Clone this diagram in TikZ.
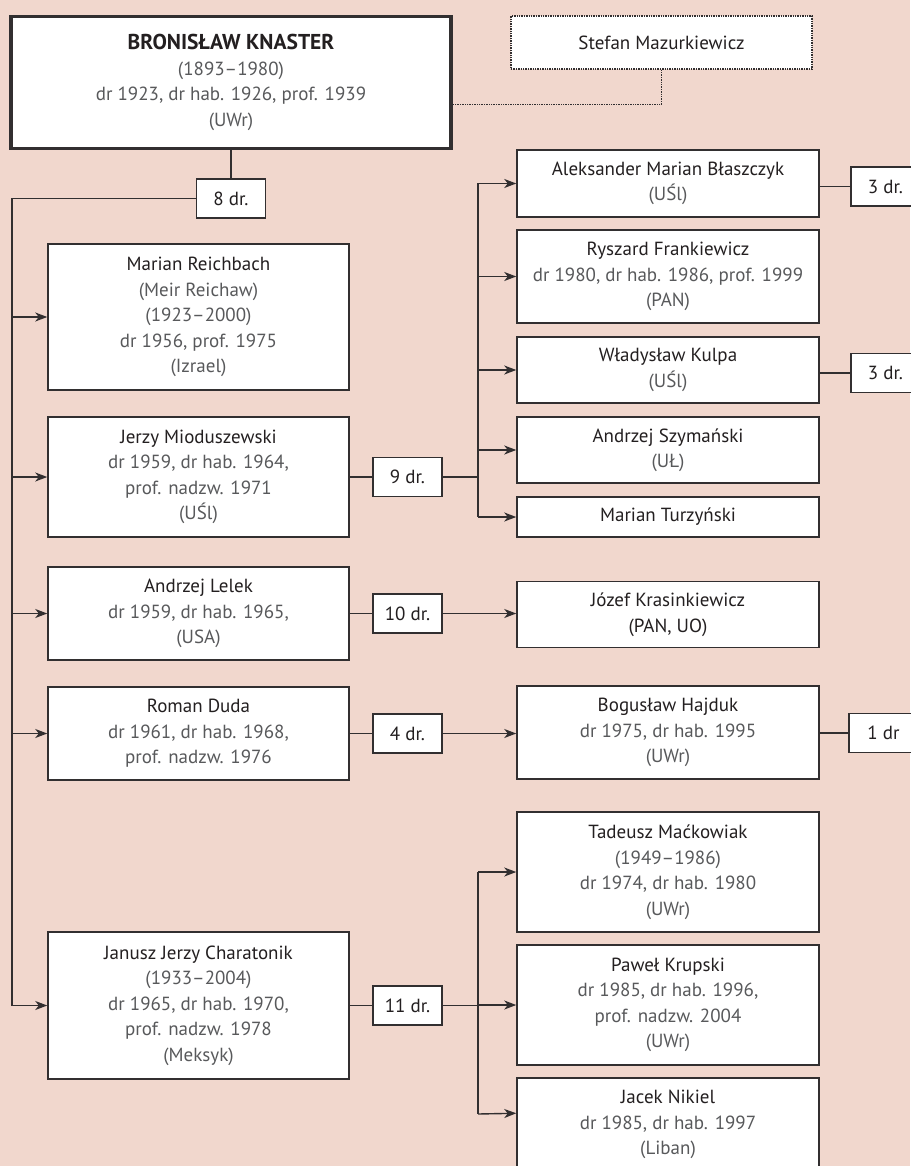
\documentclass[tikz,border=0pt]{standalone}
\usepackage{fontspec}
\setmainfont{PT Sans}
\usetikzlibrary{arrows.meta}
\definecolor{bgpink}{RGB}{241,215,205}
\definecolor{namecol}{RGB}{35,31,32}
\definecolor{infocol}{RGB}{88,89,91}
\definecolor{linecol}{RGB}{50,47,48}
\newcommand{\pname}[1]{\textcolor{namecol}{#1}\\}
\tikzset{
	person/.style={draw=linecol, line width=1.5pt, fill=white, align=center, text=infocol, inner sep=0pt, font=\fontsize{19}{25.5}\selectfont},
	leftbox/.style={person, minimum width=301pt},
	rightbox/.style={person, minimum width=302pt},
	countbox/.style={person, text=namecol, minimum width=69pt, minimum height=39pt},
	conn/.style={draw=linecol, line width=1.4pt},
	arr/.style={conn, -{Stealth[length=12pt, width=9pt, inset=3.5pt]}},
	dotline/.style={conn, densely dotted}
}

\begin{document}
\begin{tikzpicture}[x=1pt, y=-1pt]
			%%%%% START %%%%%
			
			\fill[bgpink] (0, 0) rectangle (910, 1166);
			\useasboundingbox (0, 0) rectangle (910, 1166);
			
			\node[person, line width=3.5pt, minimum width=440pt, minimum height=132pt] (knaster) at (231, 82.5)
				{\pname{\fontsize{21.5}{25.5}\selectfont\textbf{BRONISŁAW KNASTER}}(1893--1980)\\dr 1923, dr hab. 1926, prof. 1939\\(UWr)};
			\node[person, dotline, minimum width=301pt, minimum height=53pt] (mazurkiewicz) at (661.5, 42.5)
				{\textcolor{namecol}{Stefan Mazurkiewicz}};
			\draw[dotline] (mazurkiewicz.south) |- ([yshift=-22pt]knaster.east);
			
			\node[countbox] (cnt8) at (231, 198.5) {8 dr.};
			\draw[conn] (knaster) -- (cnt8);
			\coordinate (trunk) at (12, 1005.5);
			\draw[conn] (cnt8.west) -| (trunk);
			
			\node[leftbox, minimum height=146pt] (reichbach) at (198.5, 317)
				{\pname{Marian Reichbach}(Meir Reichaw)\\(1923--2000)\\dr 1956, prof. 1975\\(Izrael)};
			\node[leftbox, minimum height=120pt] (mioduszewski) at (198.5, 477)
				{\pname{Jerzy Mioduszewski}dr 1959, dr hab. 1964,\\prof. nadzw. 1971\\(UŚl)};
			\node[leftbox, minimum height=93pt] (lelek) at (198.5, 613.5)
				{\pname{Andrzej Lelek}dr 1959, dr hab. 1965,\\(USA)};
			\node[leftbox, minimum height=93pt] (duda) at (198.5, 733.5)
				{\pname{Roman Duda}dr 1961, dr hab. 1968,\\prof. nadzw. 1976};
			\node[leftbox, minimum height=147pt] (charatonik) at (198.5, 1005.5)
				{\pname{Janusz Jerzy Charatonik}(1933--2004)\\dr 1965, dr hab. 1970,\\prof. nadzw. 1978\\(Meksyk)};
			
			\draw[arr] (trunk |- reichbach.west) -- (reichbach.west);
			\draw[arr] (trunk |- mioduszewski.west) -- (mioduszewski.west);
			\draw[arr] (trunk |- lelek.west) -- (lelek.west);
			\draw[arr] (trunk |- duda.west) -- (duda.west);
			\draw[arr] (trunk) -- (charatonik.west);
			
			\node[countbox] (cnt9) at (407.5, 477) {9 dr.};
			\node[countbox] (cnt10) at (407.5, 613.5) {10 dr.};
			\node[countbox] (cnt4) at (407.5, 733.5) {4 dr.};
			\node[countbox] (cnt11) at (407.5, 1005.5) {11 dr.};
			\draw[conn] (mioduszewski) -- (cnt9);
			\draw[conn] (lelek) -- (cnt10);
			\draw[conn] (duda) -- (cnt4);
			\draw[conn] (charatonik) -- (cnt11);
			
			\node[rightbox, minimum height=67pt] (blaszczyk) at (668, 183.5)
				{\pname{Aleksander Marian Błaszczyk}(UŚl)};
			\node[rightbox, minimum height=93pt] (frankiewicz) at (668, 276.5)
				{\pname{Ryszard Frankiewicz}dr 1980, dr hab. 1986, prof. 1999\\(PAN)};
			\node[rightbox, minimum height=66pt] (kulpa) at (668, 370)
				{\pname{Władysław Kulpa}(UŚl)};
			\node[rightbox, minimum height=66pt] (szymanski) at (668, 450)
				{\pname{Andrzej Szymański}(UŁ)};
			\node[rightbox, minimum height=40pt] (turzynski) at (668, 517)
				{\textcolor{namecol}{Marian Turzyński}};
			
			\coordinate (br9) at (478, 477);
			\draw[conn] (cnt9.east) -- (br9);
			\draw[conn] (br9 |- blaszczyk.west) -- (br9 |- turzynski.west);
			\draw[arr] (br9 |- blaszczyk.west) -- (blaszczyk.west);
			\draw[arr] (br9 |- frankiewicz.west) -- (frankiewicz.west);
			\draw[arr] (br9 |- kulpa.west) -- (kulpa.west);
			\draw[arr] (br9 |- szymanski.west) -- (szymanski.west);
			\draw[arr] (br9 |- turzynski.west) -- (turzynski.west);
			
			\node[rightbox, text=namecol, minimum height=66pt] (krasinkiewicz) at (668, 614.5)
				{Józef Krasinkiewicz\\(PAN, UO)};
			\draw[arr] (cnt10.east) -- (cnt10.east -| krasinkiewicz.west);
			
			\node[rightbox, minimum height=93pt] (hajduk) at (668, 732.5)
				{\pname{Bogusław Hajduk}dr 1975, dr hab. 1995\\(UWr)};
			\draw[arr] (cnt4.east) -- (cnt4.east -| hajduk.west);
			
			\node[rightbox, minimum height=120pt] (mackowiak) at (668, 872)
				{\pname{Tadeusz Maćkowiak}(1949--1986)\\dr 1974, dr hab. 1980\\(UWr)};
			\node[rightbox, minimum height=120pt] (krupski) at (668, 1005)
				{\pname{Paweł Krupski}dr 1985, dr hab. 1996,\\prof. nadzw. 2004\\(UWr)};
			\node[rightbox, minimum height=93pt] (nikiel) at (668, 1124.5)
				{\pname{Jacek Nikiel}dr 1985, dr hab. 1997\\(Liban)};
			
			\coordinate (br11) at (478, 1005.5);
			\draw[conn] (cnt11.east) -- (br11);
			\draw[conn] (br11 |- mackowiak.west) -- (br11 |- 0, 1114);
			\draw[arr] (br11 |- mackowiak.west) -- (mackowiak.west);
			\draw[arr] (br11 |- krupski.west) -- (krupski.west);
			\draw[arr] (br11 |- 0, 1114) -- ([yshift=-36pt]nikiel.north west);
			
			\node[countbox] (cnt3a) at (885.5, 186.5) {3 dr.};
			\node[countbox] (cnt3b) at (885.5, 373) {3 dr.};
			\node[countbox] (cnt1) at (883.5, 733) {1 dr};
			\draw[conn] (blaszczyk.east |- cnt3a) -- (cnt3a.west);
			\draw[conn] (kulpa.east |- cnt3b) -- (cnt3b.west);
			\draw[conn] (hajduk.east |- cnt1) -- (cnt1.west);
			
			%%%%% END %%%%%
\end{tikzpicture}
\end{document}
